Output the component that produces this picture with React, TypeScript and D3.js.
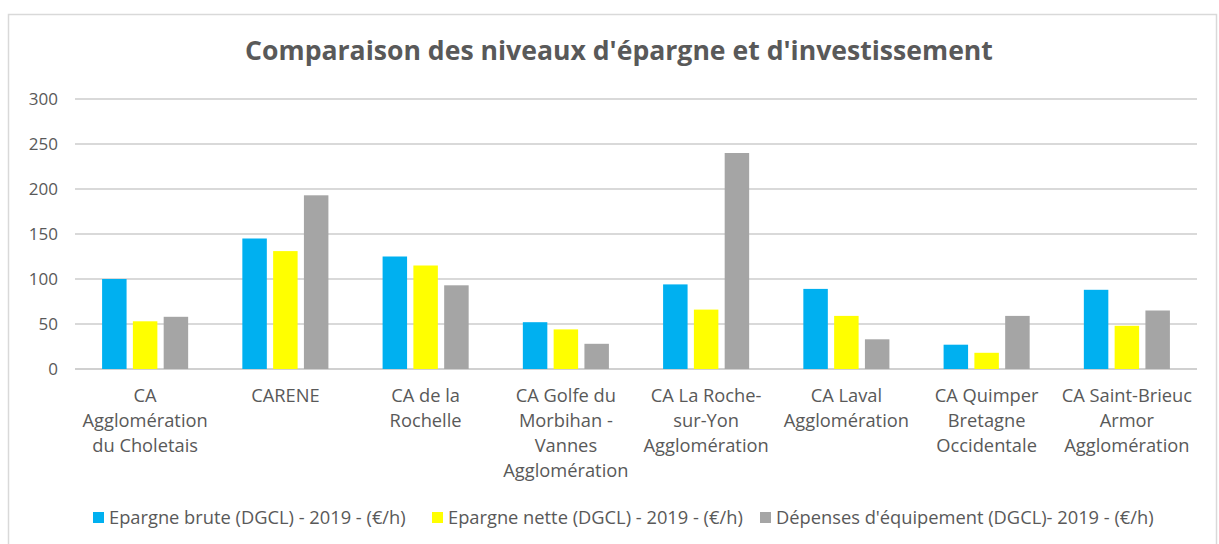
import React from "react";
import * as d3 from "d3";

const categories = [
  ["CA", "Agglomération", "du Choletais"],
  ["CARENE"],
  ["CA de la", "Rochelle"],
  ["CA Golfe du", "Morbihan -", "Vannes", "Agglomération"],
  ["CA La Roche-", "sur-Yon", "Agglomération"],
  ["CA Laval", "Agglomération"],
  ["CA Quimper", "Bretagne", "Occidentale"],
  ["CA Saint-Brieuc", "Armor", "Agglomération"],
];
const seriesNames = [
  "Epargne brute (DGCL) - 2019 - (€/h)",
  "Epargne nette (DGCL) - 2019 - (€/h)",
  "Dépenses d'équipement (DGCL)- 2019 - (€/h)",
];
const epargneBrute = [100, 145, 125, 52, 94, 89, 27, 88];
const epargneNette = [53, 131, 115, 44, 66, 59, 18, 48];
const depensesEquipement = [58, 193, 93, 28, 240, 33, 59, 65];
const yTicks = [0, 50, 100, 150, 200, 250, 300];
const colors = ["#00B0F0", "#FFFF00", "#A5A5A5"];

const W = 1219, H = 544;
const margin = { top: 99, right: 22, bottom: 175, left: 75 };
const font = "'Open Sans', sans-serif";
const textColor = "#595959";

export default function App() {
  const series = [epargneBrute, epargneNette, depensesEquipement];
  const keys = categories.map((c) => c.join(" "));

  const x = d3.scaleBand().domain(keys).range([margin.left, W - margin.right]);
  const inner = d3.scaleBand().domain(["0", "1", "2"]).range([0, x.bandwidth()]).paddingInner(0.205).paddingOuter(0.88);
  const y = d3.scaleLinear().domain([0, 300]).range([H - margin.bottom, margin.top]);

  const legendX = [93, 432, 760];

  return (
    <svg width={W} height={H} style={{ position: "absolute", left: 0, top: 0, fontFamily: font }}>
      <rect x={0} y={0} width={W} height={H} fill="#fff" />
      <rect x={8.5} y={14.5} width={W - 11} height={H + 20} fill="none" stroke="#D9D9D9" strokeWidth={1.5} />
      <text x={619} y={60} textAnchor="middle" fontSize={26.6} fontWeight="bold" fill={textColor}>
        Comparaison des niveaux d'épargne et d'investissement
      </text>
      {yTicks.map((t) => (
        <g key={t}>
          <line x1={margin.left} x2={W - margin.right} y1={y(t)} y2={y(t)} stroke={t === 0 ? "#D0D0D0" : "#D9D9D9"} strokeWidth={2} />
          <text x={58} y={y(t)} dy="0.35em" textAnchor="end" fontSize={17} fill={textColor}>{t}</text>
        </g>
      ))}
      {keys.map((k, i) => (
        <g key={k} transform={`translate(${x(k)},0)`}>
          {series.map((s, j) => (
            <rect key={j} x={inner(String(j))} y={y(s[i])} width={inner.bandwidth()} height={y(0) - y(s[i])} fill={colors[j]} />
          ))}
          {categories[i].map((line, li) => (
            <text key={li} x={x.bandwidth() / 2} y={402 + li * 25} textAnchor="middle" fontSize={18.3} fill={textColor}>{line}</text>
          ))}
        </g>
      ))}
      {seriesNames.map((n, j) => (
        <g key={n} transform={`translate(${legendX[j]},512)`}>
          <rect x={0} y={0} width={11} height={11} fill={colors[j]} />
          <text x={16} y={6} dy="0.35em" fontSize={18.3} fill={textColor}>{n}</text>
        </g>
      ))}
    </svg>
  );
}
